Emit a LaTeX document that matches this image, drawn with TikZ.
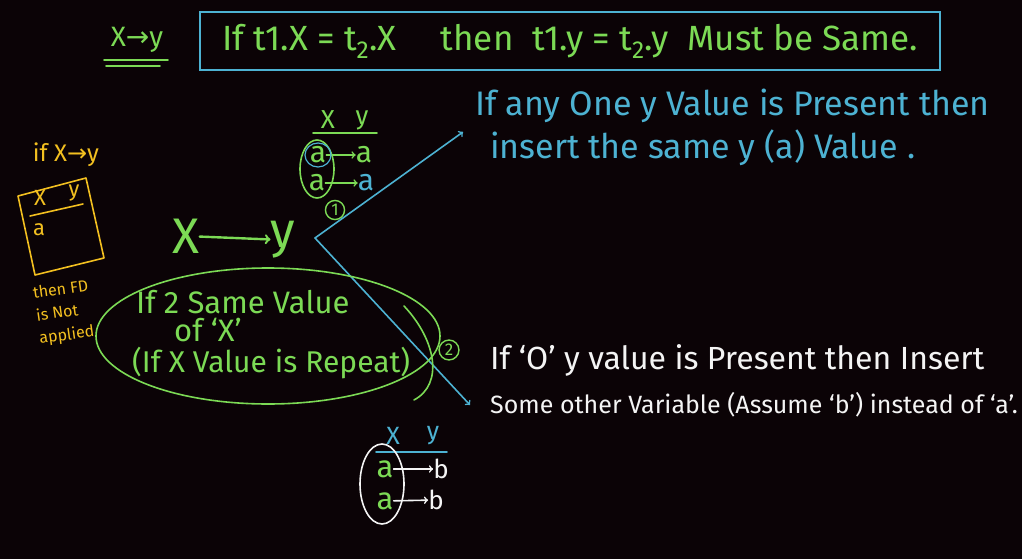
\documentclass[tikz,border=0pt]{standalone}
\usepackage{fontspec}
\setmainfont{Fira Sans}
\newfontfamily\arrowfont{DejaVu Sans}
\usetikzlibrary{positioning}
\definecolor{board}{HTML}{0B0306}
\definecolor{chalkgreen}{HTML}{7CDA55}
\definecolor{chalkcyan}{HTML}{4DB2D2}
\definecolor{chalkyellow}{HTML}{F3C020}
\definecolor{chalkwhite}{HTML}{F4F4F4}

\tikzset{
  chalk/.style={line width=1.6pt, line cap=round, line join=round},
  gtext/.style={text=chalkgreen, inner sep=0pt},
  ctext/.style={text=chalkcyan, inner sep=0pt},
  wtext/.style={text=chalkwhite, inner sep=0pt},
  ytext/.style={text=chalkyellow, inner sep=0pt}
}

\begin{document}
\begin{tikzpicture}[x=1pt,y=-1pt]
\fill[board] (0,0) rectangle (1022,559);

% heading and rule box
\node[gtext, font=\fontsize{28}{30}\selectfont] (fdname) at (137,40) {X{\arrowfont →}y};
\draw[chalk, chalkgreen] (104,60) -- (168,60);
\draw[chalk, chalkgreen] (106,66) -- (160,66);
\node[draw=chalkcyan, line width=1.5pt, minimum width=740pt, minimum height=58pt,
  text=chalkgreen, font=\fontsize{35}{38}\selectfont] (rulebox) at (570,41)
  {If t1.X = t\textsubscript{2}.X \quad then \ t1.y = t\textsubscript{2}.y \ Must be Same.};

% yellow case on the left
\node[ytext, font=\fontsize{24}{26}\selectfont] (ifx) at (66,155) {if X{\arrowfont →}y};
\draw[chalk, chalkyellow] (18,196) -- (86,178) -- (104,258) -- (35,275) -- cycle;
\draw[chalk, chalkyellow] (30,216) -- (83,204);
\node[ytext, font=\fontsize{22}{24}\selectfont] (yx) at (40,198) {X};
\node[ytext, font=\fontsize{22}{24}\selectfont] (yy) at (74,193) {y};
\node[ytext, font=\fontsize{22}{24}\selectfont] (ya) at (39,230) {a};
\node[ytext, rotate=8, align=left, font=\fontsize{16}{23}\selectfont] (nofd) at (64,313)
  {then FD\\is Not\\applied};

% table for case 1
\node[gtext, font=\fontsize{26}{28}\selectfont] (tx) at (328,120) {X};
\node[gtext, font=\fontsize{26}{28}\selectfont] (ty) at (362,120) {y};
\draw[chalk, chalkgreen] (313,133) -- (377,133);
\node[gtext, font=\fontsize{30}{32}\selectfont] (ta1) at (318,155) {a};
\node[gtext, font=\fontsize{30}{32}\selectfont] (tb1) at (364,155) {a};
\node[gtext, font=\fontsize{30}{32}\selectfont] (ta2) at (317,183) {a};
\node[ctext, font=\fontsize{30}{32}\selectfont] (tb2) at (366,183) {a};
\draw[chalk, chalkgreen, ->] (ta1) -- (tb1);
\draw[chalk, chalkgreen, ->] (ta2) -- (tb2);
\draw[chalk, chalkgreen] (317,169) ellipse [x radius=17, y radius=29];
\draw[chalk, chalkcyan, line width=1.2pt] (ta1) ellipse [x radius=13, y radius=12];
\node[gtext, draw=chalkgreen, circle, line width=1.4pt, inner sep=2pt,
  font=\fontsize{17}{18}\selectfont] (one) at (335,210) {1};

% the dependency
\node[gtext, font=\fontsize{50}{54}\selectfont] (bigx) at (186,236) {X};
\node[gtext, font=\fontsize{50}{54}\selectfont] (bigy) at (283,240) {y};
\draw[chalk, chalkgreen, line width=2.4pt, ->] (bigx) -- (bigy);
\coordinate (fork) at (315,238);
\coordinate (up) at (463,132);
\coordinate (down) at (470,405);
\draw[chalk, chalkcyan, ->] (fork) -- (up);
\draw[chalk, chalkcyan, ->] (fork) -- (down);

% case 1 text
\node[ctext, anchor=west, font=\fontsize{34}{36}\selectfont] (case1a) at (475,106)
  {If any One y Value is Present then};
\node[ctext, anchor=west, font=\fontsize{34}{36}\selectfont] (case1b) at (490,148)
  {insert the same y (a) Value .};

% repeated X loop
\draw[chalk, chalkgreen] (268,336) ellipse [x radius=172, y radius=68];
\draw[chalk, chalkgreen] (404,306) .. controls (436,340) and (444,384) .. (414,400);
\node[gtext, anchor=west, font=\fontsize{31}{34}\selectfont] (rep1) at (136,302) {If 2 Same Value};
\node[gtext, anchor=west, font=\fontsize{31}{34}\selectfont] (rep2) at (174,330) {of `X'};
\node[gtext, anchor=west, font=\fontsize{30}{34}\selectfont] (rep3) at (132,363) {(If X Value is Repeat)};
\node[gtext, draw=chalkgreen, circle, line width=1.4pt, inner sep=2pt,
  font=\fontsize{17}{18}\selectfont] (two) at (449,350) {2};

% case 2 text
\node[wtext, anchor=west, font=\fontsize{32}{34}\selectfont] (case2a) at (490,360)
  {If `O' y value is Present then Insert};
\node[wtext, anchor=west, font=\fontsize{25}{30}\selectfont] (case2b) at (490,405)
  {Some other Variable (Assume `b') instead of `a'.};

% table for case 2
\node[ctext, font=\fontsize{25}{28}\selectfont] (bx) at (393,436) {X};
\node[ctext, font=\fontsize{25}{28}\selectfont] (by) at (433,436) {y};
\draw[chalk, chalkcyan] (376,452) -- (447,452);
\node[gtext, font=\fontsize{31}{33}\selectfont] (ba1) at (385,469) {a};
\node[wtext, font=\fontsize{26}{28}\selectfont] (bb1) at (441,469) {b};
\node[gtext, font=\fontsize{31}{33}\selectfont] (ba2) at (385,501) {a};
\node[wtext, font=\fontsize{26}{28}\selectfont] (bb2) at (436,500) {b};
\draw[chalk, chalkwhite, ->] (ba1) -- (bb1);
\draw[chalk, chalkwhite, ->] (ba2) -- (bb2);
\draw[chalk, chalkwhite] (382,484) ellipse [x radius=22, y radius=40];
\end{tikzpicture}
\end{document}
